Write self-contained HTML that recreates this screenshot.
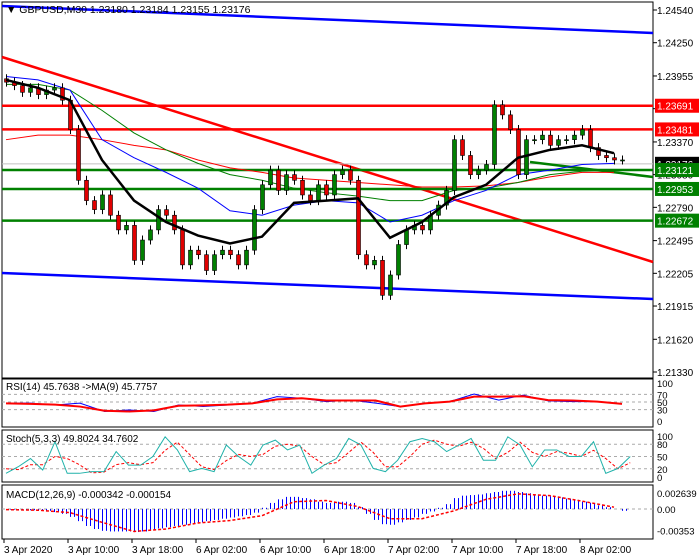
<!DOCTYPE html>
<html><head><meta charset="utf-8">
<style>
body{margin:0;background:#fff;}
svg{display:block;font-family:"Liberation Sans",sans-serif;}
</style></head>
<body>
<svg id="c" width="700" height="560" xmlns="http://www.w3.org/2000/svg"></svg>
<script>
const closes=[1.2390,1.2387,1.2381,1.2385,1.2379,1.2383,1.2385,1.2374,1.2348,1.2303,1.2285,1.2277,1.2290,1.2272,1.2259,1.2263,1.2232,1.2250,1.2259,1.2277,1.2272,1.2259,1.2228,1.2241,1.2237,1.2223,1.2237,1.2241,1.2237,1.2228,1.2241,1.2277,1.2299,1.2312,1.2294,1.2308,1.2303,1.2290,1.2285,1.2299,1.2290,1.2308,1.2312,1.2303,1.2237,1.2228,1.2232,1.2201,1.2219,1.2246,1.2259,1.2263,1.2259,1.2272,1.2281,1.2294,1.2339,1.2325,1.2308,1.2312,1.2317,1.2370,1.2361,1.2348,1.2308,1.2339,1.2339,1.2343,1.2334,1.2339,1.2339,1.2343,1.2348,1.2332,1.2325,1.2323,1.2321,1.2321];
const maBlack=[1.2392,1.2385,1.2374,1.2321,1.2285,1.2266,1.2254,1.2247,1.2253,1.2283,1.2285,1.2287,1.2252,1.2266,1.2288,1.2299,1.2323,1.2330,1.2334,1.2327];
const maBlue=[1.2395,1.2392,1.2383,1.2339,1.2323,1.2310,1.2296,1.2276,1.2272,1.2281,1.2285,1.2283,1.2266,1.2272,1.2285,1.2294,1.2308,1.2312,1.2317,1.2318];
const maGreen=[1.2388,1.2388,1.2383,1.2365,1.2345,1.2330,1.2318,1.2308,1.2303,1.2296,1.2292,1.2289,1.2285,1.2285,1.2294,1.2296,1.2301,1.2308,1.2311,1.2312];
const maRed=[1.2339,1.2343,1.2343,1.2339,1.2334,1.2330,1.2321,1.2314,1.2310,1.2305,1.2303,1.2301,1.2299,1.2297,1.2297,1.2298,1.2301,1.2306,1.2310,1.2310];
const priceTicks=["1.24540","1.24250","1.23955","1.23665","1.23370","1.23080","1.22790","1.22495","1.22205","1.21915","1.21620","1.21330"];
const hLevels=[1.23691,1.23481,1.23121,1.22953,1.22672];
const hColors=["#ff0000","#ff0000","#008000","#008000","#008000"];
const rsi=[47,47,42,47,25,29,25,42,38,42,47,64,60,51,55,47,38,47,51,71,55,68,53,51,51,45];
const rsiMa=[46.5,45,43,38,27,25,28,40,41,43,46.5,57,60,54,54,54,38,46.5,51,64,64,65,55,54,51,45];
const stochK=[9,25,45,17,86,9,9,13,13,62,29,29,50,98,66,13,21,13,78,50,29,78,90,66,78,9,29,45,94,78,21,13,41,86,94,86,62,78,94,41,41,98,78,25,66,66,50,50,86,9,21,50];
const stochD=[20,18,30,30,50,45,30,10,12,30,35,30,35,65,85,55,25,18,40,55,50,55,75,80,75,50,30,35,60,85,60,25,25,50,80,90,80,75,85,70,45,60,85,60,50,62,58,50,65,45,20,35];
const macdHist=[-0.0001,-0.0001,-0.0002,-0.0002,-0.0003,-0.0003,-0.0005,-0.0008,-0.0013,-0.0020,-0.0028,-0.0033,-0.0036,-0.0037,-0.0037,-0.0037,-0.0038,-0.0037,-0.0034,-0.0032,-0.0030,-0.0028,-0.0026,-0.0024,-0.0022,-0.0020,-0.0018,-0.0016,-0.0014,-0.0012,-0.0010,-0.0006,0.0002,0.0010,0.0016,0.0020,0.0020,0.0018,0.0016,0.0012,0.0010,0.0012,0.0012,0.0010,0.0003,-0.0008,-0.0018,-0.0025,-0.0026,-0.0022,-0.0018,-0.0014,-0.0008,-0.0004,0.0002,0.0008,0.0018,0.0022,0.0023,0.0024,0.0026,0.0028,0.0030,0.0030,0.0028,0.0026,0.0024,0.0022,0.0021,0.0019,0.0017,0.0015,0.0012,0.0010,0.0006,0.0003,0.0000,-0.0003];
const macdSignal=[-0.0001,-0.0002,-0.0006,-0.0022,-0.0037,-0.0033,-0.0023,-0.0019,-0.0011,0.0012,0.0014,0.0004,-0.0016,-0.0016,-0.0003,0.0016,0.0025,0.0022,0.0013,0.0003];
const timeLabels=["3 Apr 2020","3 Apr 10:00","3 Apr 18:00","6 Apr 02:00","6 Apr 10:00","6 Apr 18:00","7 Apr 02:00","7 Apr 10:00","7 Apr 18:00","8 Apr 02:00"];

const svg=document.getElementById('c');
const NS="http://www.w3.org/2000/svg";
function mk(tag,attrs,parent){const e=document.createElementNS(NS,tag);for(const k in attrs)e.setAttribute(k,attrs[k]);(parent||svg).appendChild(e);return e;}
const R=653;
const yP=p=>10+(1.2454-p)*11277;
const xI=i=>6+8*i;
const yRsi=v=>421-v*0.38;
const ySt=v=>477-v*0.41;
const yMacd=v=>509-v*6063;

let f;
f=mk('rect',{x:2,y:2,width:R-2,height:376,fill:'none',stroke:'#000'});


f=mk('rect',{x:2,y:379,width:R-2,height:48,fill:'none',stroke:'#000'});


f=mk('rect',{x:2,y:430,width:R-2,height:52,fill:'none',stroke:'#000'});


f=mk('rect',{x:2,y:485,width:R-2,height:54,fill:'none',stroke:'#000'});



priceTicks.forEach(t=>{const y=yP(parseFloat(t));
 mk('line',{x1:R,x2:R+4,y1:y,y2:y,stroke:'#000'});
 const tx=mk('text',{x:657,y:y+4,'font-size':10,fill:'#000'});tx.textContent=t;
 
 
});

let l;
l=mk('line',{x1:2,y1:6,x2:R,y2:33,stroke:'#0000ff','stroke-width':2.5});


l=mk('line',{x1:2,y1:273,x2:R,y2:299,stroke:'#0000ff','stroke-width':2.5});


l=mk('line',{x1:2,y1:57,x2:R,y2:262,stroke:'#ff0000','stroke-width':2.5});


l=mk('line',{x1:2,y1:yP(1.23176),x2:R,y2:yP(1.23176),stroke:'#c0c0c0'});


hLevels.forEach((p,i)=>{
 const e=mk('line',{x1:2,x2:R,y1:yP(p),y2:yP(p),stroke:hColors[i],'stroke-width':2.5});
 
 
});
l=mk('line',{x1:530,y1:162,x2:R,y2:177,stroke:'#008000','stroke-width':2.5});



function poly(arr,xf,yf,color,w,name,dash){
 const pts=arr.map((v,i)=>xf(i)+','+yf(v)).join(' ');
 const e=mk('polyline',{points:pts,fill:'none',stroke:color,'stroke-width':w});
 if(dash)e.setAttribute('stroke-dasharray',dash);
 
 
 return e;
}
poly(maRed,i=>xI(i*4),yP,'#ff0000',1,'ma-red');
poly(maGreen,i=>xI(i*4),yP,'#008000',1,'ma-green');
poly(maBlue,i=>xI(i*4),yP,'#0000ff',1,'ma-blue');

closes.forEach((c,i)=>{
 const o=i>0?closes[i-1]:c+0.0003;
 const x=xI(i);
 const hi=Math.max(o,c)+0.0004, lo=Math.min(o,c)-0.0004;
 const g=mk('g',{});
 
 
 mk('line',{x1:x+0.5,x2:x+0.5,y1:yP(hi),y2:yP(lo),stroke:'#000'},g);
 const top=yP(Math.max(o,c)),h=Math.max(1,Math.abs(yP(o)-yP(c)));
 mk('rect',{x:x-1.5,y:top,width:4,height:h,fill:c>=o?'#008000':'#e00000',stroke:'#000','stroke-width':0.6},g);
});
poly(maBlack,i=>xI(i*4),yP,'#000',2.5,'ma-black');

function box(p,bg,txt,name){const y=yP(p);
 const b=mk('rect',{x:655,y:y-7,width:44,height:14,fill:bg});
 
 
 const t=mk('text',{x:657,y:y+4,'font-size':10,fill:'#fff'});t.textContent=txt;
 
 
}
box(1.23176,'#000','1.23176','bid-price-label');
hLevels.forEach((p,i)=>box(p,hColors[i],p.toFixed(5),'level-price-label'));

let h=mk('text',{x:6,y:13,'font-size':10.5,fill:'#000'});
h.textContent='▼ GBPUSD,M30  1.23180 1.23184 1.23155 1.23176';



[70,50,30].forEach(v=>mk('line',{x1:2,x2:R,y1:yRsi(v),y2:yRsi(v),stroke:'#aaa','stroke-dasharray':'3,3'}));
[[100,'100'],[70,'70'],[50,'50'],[30,'30'],[0,'0']].forEach(a=>{const t=mk('text',{x:657,y:yRsi(a[0])+4,'font-size':9.5});t.textContent=a[1];
 
 });
poly(rsi,i=>xI(i*3.08),yRsi,'#0000ff',1,'rsi-line');
poly(rsiMa,i=>xI(i*3.08),yRsi,'#ff0000',2,'rsi-ma-line');
h=mk('text',{x:6,y:390,'font-size':10});h.textContent='RSI(14) 45.7638  ->MA(9) 45.7757';



[80,50,20].forEach(v=>mk('line',{x1:2,x2:R,y1:ySt(v),y2:ySt(v),stroke:'#aaa','stroke-dasharray':'3,3'}));
[[100,'100'],[80,'80'],[50,'50'],[20,'20'],[0,'0']].forEach(a=>{const t=mk('text',{x:657,y:ySt(a[0])+4,'font-size':9.5});t.textContent=a[1];
 
 });
poly(stochD,i=>xI(i*1.53),ySt,'#ff0000',1,'stoch-signal-line','3,2');
poly(stochK,i=>xI(i*1.53),ySt,'#20b2aa',1,'stoch-main-line');
h=mk('text',{x:6,y:442,'font-size':10});h.textContent='Stoch(5,3,3) 49.8024 34.7602';



mk('line',{x1:2,x2:R,y1:yMacd(0),y2:yMacd(0),stroke:'#aaa','stroke-dasharray':'3,3'});
[[0.002639,'0.002639'],[0,'0.00'],[-0.00353,'-0.00353']].forEach(a=>{const t=mk('text',{x:657,y:yMacd(a[0])+4,'font-size':9.5});t.textContent=a[1];
 
 });
macdHist.forEach((v,i)=>{
 [0,4].forEach(dx=>{
  const e=mk('rect',{x:xI(i)+dx,y:Math.min(yMacd(v),yMacd(0)),width:1,height:Math.abs(yMacd(v)-yMacd(0)),fill:'#0000ff'});
  
  
 });
});
poly(macdSignal,i=>xI(i*4),yMacd,'#ff0000',1.5,'macd-signal-line','3,2');
h=mk('text',{x:6,y:498,'font-size':10});h.textContent='MACD(12,26,9) -0.000342 -0.000154';



timeLabels.forEach((t,i)=>{const x=4+64*i;
 mk('line',{x1:x,x2:x,y1:539,y2:543,stroke:'#000'});
 const e=mk('text',{x:x,y:553,'font-size':10});e.textContent=t;
 
 
});
</script>
</body></html>
